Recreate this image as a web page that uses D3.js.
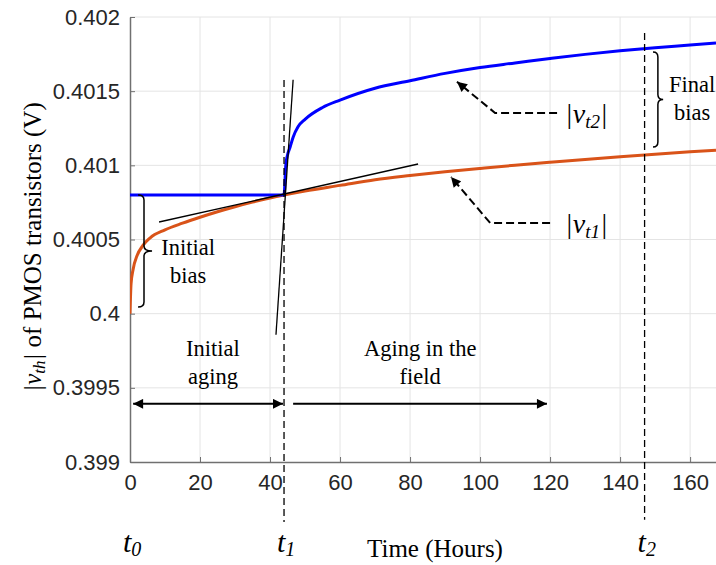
<!DOCTYPE html>
<html><head><meta charset="utf-8">
<script src="https://cdn.jsdelivr.net/npm/d3@7"></script>
<style>body{margin:0;background:#fff}svg{display:block}</style>
</head><body><svg id="c" width="716" height="565"></svg>
<script>
// ---- data ----
const xTicks = [0, 20, 40, 60, 80, 100, 120, 140, 160];
const yTicks = [0.399, 0.3995, 0.4, 0.4005, 0.401, 0.4015, 0.402];
const yTickLabels = ["0.399", "0.3995", "0.4", "0.4005", "0.401", "0.4015", "0.402"];
const xDomain = [0, 167.4];
const yDomain = [0.399, 0.402];

// |v_t2| (blue)
const blueT = [0, 44, 44.5, 45, 45.7, 46.6, 48, 50, 55, 60, 70, 80, 90, 100, 110, 120, 130, 140, 150, 160, 167.4];
const blueV = [0.4008, 0.4008, 0.40100, 0.40107, 0.40112, 0.40119, 0.40126, 0.40131, 0.40139, 0.40144, 0.40152, 0.40157, 0.40162, 0.40166, 0.40169, 0.40172, 0.401748, 0.401772, 0.401793, 0.401811, 0.401825];
// |v_t1| (orange)
const orangeT = [0, 0.3, 0.9, 2, 3.7, 5.7, 10, 15, 20, 25, 30, 35, 40, 44, 50, 60, 70, 80, 90, 100, 110, 120, 130, 140, 150, 160, 167.4];
const orangeV = [0.4, 0.40020, 0.40030, 0.40039, 0.40046, 0.40051, 0.400565, 0.40061, 0.40065, 0.400687, 0.400721, 0.400752, 0.40078, 0.40080, 0.400827, 0.400865, 0.400903, 0.400931, 0.400956, 0.400979, 0.401001, 0.401021, 0.40104, 0.401058, 0.401075, 0.401091, 0.401102];

// tangent lines at t1
const tangentShallow = [[8.3, 0.400618], [82.3, 0.401009]];
const tangentSteep = [[41.7, 0.399858], [46.6, 0.401577]];

// markers of time
const t1 = 44, t2 = 147;
const t1Span = [0.401576, 0.398596];
const t2Span = [0.401892, 0.398610];

// annotation geometry (data units)
const leaderT2 = [[122, 0.401353], [104.3, 0.401353], [93.4, 0.401564]];
const leaderT1 = [[120, 0.400611], [102.9, 0.400611], [91.7, 0.400922]];
const arrowInitial = [[0.9, 0.399392], [43.7, 0.399392]];
const arrowField = [[46.6, 0.399392], [119.1, 0.399392]];
const braceInitial = {t0: 2.3, tm: 4.0, tip: 6.3, top: 0.4008, bot: 0.400045};
const braceFinal = {t0: 149.4, tm: 150.8, tip: 152.3, top: 0.401764, bot: 0.401124};

const svg = d3.select("#c");
const x = d3.scaleLinear().domain(xDomain).range([130, 716]);
const y = d3.scaleLinear().domain(yDomain).range([462, 17]);

const serif = "'Liberation Serif','Times New Roman',serif";
const sans = "'Liberation Sans',Arial,Helvetica,sans-serif";

// markers
const defs = svg.append("defs");
defs.append("marker").attr("id", "ah").attr("viewBox", "0 0 10 10").attr("refX", 10).attr("refY", 5)
  .attr("markerWidth", 12).attr("markerHeight", 10).attr("markerUnits", "userSpaceOnUse").attr("orient", "auto-start-reverse")
  .append("path").attr("d", "M0,0 L10,5 L0,10 Z").attr("fill", "#000");
defs.append("clipPath").attr("id", "clip").append("rect").attr("x", 130).attr("y", 0).attr("width", 586).attr("height", 462);

// grid
svg.append("g").selectAll("line").data(xTicks.filter(d => d > 0)).join("line")
  .attr("x1", d => x(d)).attr("x2", d => x(d)).attr("y1", y(yDomain[0])).attr("y2", y(yDomain[1]))
  .attr("stroke", "#e4e4e4").attr("stroke-width", 1);
svg.append("g").selectAll("line").data(yTicks.filter(d => d > yDomain[0])).join("line")
  .attr("x1", x(0)).attr("x2", 716).attr("y1", d => y(d)).attr("y2", d => y(d))
  .attr("stroke", "#e4e4e4").attr("stroke-width", 1);

// axes
const xAxis = d3.axisBottom(x).tickValues(xTicks).tickSizeInner(-5).tickSizeOuter(0).tickPadding(12);
const gx = svg.append("g").attr("transform", `translate(0,${y(yDomain[0])})`).call(xAxis);
gx.select(".domain").attr("stroke", "#707070").attr("stroke-width", 1.5);
gx.selectAll(".tick line").attr("stroke", "#707070");
gx.selectAll("text").attr("font-family", sans).attr("font-size", 22).attr("fill", "#262626");

const yAxis = d3.axisLeft(y).tickValues(yTicks).tickFormat((d, i) => yTickLabels[i]).tickSizeInner(-5).tickSizeOuter(0).tickPadding(10);
const gy = svg.append("g").attr("transform", `translate(${x(0)},0)`).call(yAxis);
gy.select(".domain").attr("stroke", "#707070").attr("stroke-width", 1.5);
gy.selectAll(".tick line").attr("stroke", "#707070");
gy.selectAll("text").attr("font-family", sans).attr("font-size", 22).attr("fill", "#262626");

// curves
const line = d3.line().x(d => x(d[0])).y(d => y(d[1])).curve(d3.curveMonotoneX);
const plot = svg.append("g").attr("clip-path", "url(#clip)");
plot.append("path").datum(orangeT.map((t, i) => [t, orangeV[i]])).attr("d", line)
  .attr("fill", "none").attr("stroke", "#D95319").attr("stroke-width", 3);
plot.append("path").datum(blueT.map((t, i) => [t, blueV[i]])).attr("d", line)
  .attr("fill", "none").attr("stroke", "#0000FF").attr("stroke-width", 3);

// tangents
const straight = d3.line().x(d => x(d[0])).y(d => y(d[1]));
[tangentShallow, tangentSteep].forEach(l => {
  svg.append("path").attr("d", straight(l)).attr("fill", "none").attr("stroke", "#000").attr("stroke-width", 1.3);
});

// dashed verticals
[[t1, t1Span], [t2, t2Span]].forEach(([t, s]) => {
  svg.append("line").attr("x1", x(t)).attr("x2", x(t)).attr("y1", y(s[0])).attr("y2", y(s[1]))
    .attr("stroke", "#000").attr("stroke-width", 1.3).attr("stroke-dasharray", "7,4");
});

// leaders
[leaderT2, leaderT1].forEach(l => {
  svg.append("path").attr("d", straight(l)).attr("fill", "none").attr("stroke", "#000").attr("stroke-width", 2)
    .attr("stroke-dasharray", "8,4").attr("marker-end", "url(#ah)");
});

// horizontal arrows
svg.append("path").attr("d", straight(arrowInitial)).attr("stroke", "#000").attr("stroke-width", 2)
  .attr("marker-start", "url(#ah)").attr("marker-end", "url(#ah)");
svg.append("path").attr("d", straight(arrowField)).attr("stroke", "#000").attr("stroke-width", 2)
  .attr("marker-end", "url(#ah)");

// braces
function brace(b) {
  const x0 = x(b.t0), xm = x(b.tm), xt = x(b.tip), yt = y(b.top), yb = y(b.bot), ym = (yt + yb) / 2, r = 5;
  return `M${x0},${yt} Q${xm},${yt} ${xm},${yt + r} L${xm},${ym - r} Q${xm},${ym} ${xt},${ym} Q${xm},${ym} ${xm},${ym + r} L${xm},${yb - r} Q${xm},${yb} ${x0},${yb}`;
}
[braceInitial, braceFinal].forEach(b => {
  svg.append("path").attr("d", brace(b)).attr("fill", "none").attr("stroke", "#000").attr("stroke-width", 1.5);
});

// text annotations
function txt(t, v, s, size, anchor) {
  return svg.append("text").attr("x", x(t)).attr("y", y(v)).attr("font-family", serif).attr("font-size", size)
    .attr("text-anchor", anchor || "middle").attr("fill", "#000").text(s);
}
txt(16.6, 0.400396, "Initial", 22.5);
txt(16.6, 0.400207, "bias", 22.5);
txt(160.6, 0.401495, "Final", 22.5);
txt(160.6, 0.401306, "bias", 22.5);
txt(23.7, 0.399715, "Initial", 22.5);
txt(23.7, 0.399526, "aging", 22.5);
txt(82.9, 0.399715, "Aging in the", 22.5);
txt(82.9, 0.399526, "field", 22.5);

function vLabel(t, v, sub) {
  const el = svg.append("text").attr("x", x(t)).attr("y", y(v)).attr("font-family", serif).attr("font-size", 28)
    .attr("font-style", "italic").attr("fill", "#000");
  el.append("tspan").text("|v");
  el.append("tspan").attr("font-size", 19).attr("dy", 5).text(sub);
  el.append("tspan").attr("dy", -5).text("|");
}
vLabel(124.3, 0.401286, "t2");
vLabel(124.3, 0.400544, "t1");

// t labels below axis
function tLabel(t, sub) {
  const el = svg.append("text").attr("x", x(t) - 7).attr("y", 552).attr("font-family", serif).attr("font-size", 30)
    .attr("font-style", "italic").attr("fill", "#000");
  el.append("tspan").text("t");
  el.append("tspan").attr("font-size", 20).attr("dy", 4).text(sub);
}
tLabel(0, "0");
tLabel(t1, "1");
tLabel(t2, "2");

// axis labels
svg.append("text").attr("x", 435).attr("y", 557).attr("text-anchor", "middle").attr("font-family", serif)
  .attr("font-size", 25).attr("fill", "#000").text("Time (Hours)");
const yl = svg.append("text").attr("transform", "translate(41,247) rotate(-90)").attr("text-anchor", "middle")
  .attr("font-family", serif).attr("font-size", 25).attr("fill", "#000");
yl.append("tspan").attr("font-style", "italic").text("|v");
yl.append("tspan").attr("font-style", "italic").attr("font-size", 17).attr("dy", 4).text("th");
yl.append("tspan").attr("font-style", "italic").attr("dy", -4).text("|");
yl.append("tspan").text(" of  PMOS transistors (V)");
</script></body></html>
